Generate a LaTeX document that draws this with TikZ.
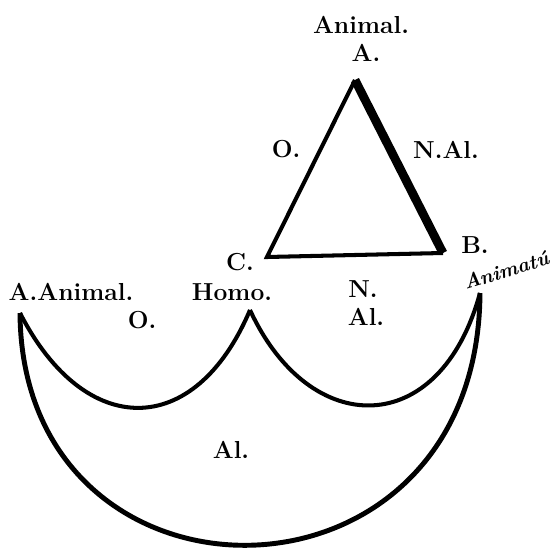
\documentclass[tikz,border=0pt]{standalone}
\begin{document}
\begin{tikzpicture}[x=0.02cm,y=-0.02cm,font=\fontsize{14}{16}\selectfont\bfseries,
  lbl/.style={anchor=base,inner sep=0pt},
  rule/.style={line width=2.3pt},
  heavy/.style={line width=5pt}]
  \useasboundingbox (0,0) rectangle (556,549);

  % Triangle
  \coordinate (A) at (355,80);
  \coordinate (B) at (443,253);
  \coordinate (C) at (267,257);
  \draw[rule,line join=miter] (A) -- (C) -- (B);
  \draw[heavy] (A) -- (B);
  \node[lbl] (animal) at (361,33) {Animal.};
  \node[lbl] (a) at (366,61) {A.};
  \node[lbl] (o1) at (286,157) {O.};
  \node[lbl] (nal) at (446,158) {N.Al.};
  \node[lbl] (b) at (475,253) {B.};
  \node[lbl] (c) at (240,270) {C.};

  % Arcs
  \coordinate (L) at (20,313);
  \coordinate (H) at (250,310);
  \coordinate (R) at (480,293);
  \draw[rule] (L) .. controls (85,440) and (195,440) .. (H);
  \draw[rule] (H) .. controls (310,440) and (440,440) .. (R);
  \draw[line width=2.8pt] (L) .. controls (22,626) and (478,626) .. (R);
  \node[lbl] (aanimal) at (71,300) {A.Animal.};
  \node[lbl] (homo) at (232,300) {Homo.};
  \node[lbl] (o2) at (142,328) {O.};
  \node[lbl] (n) at (363,297) {N.};
  \node[lbl] (al1) at (366,325) {Al.};
  \node[lbl,font=\fontsize{11.5}{13}\selectfont\bfseries\itshape,rotate=17] (animatu) at (508,277) {Animatú};
  \node[lbl] (al2) at (231,458) {Al.};
\end{tikzpicture}
\end{document}
